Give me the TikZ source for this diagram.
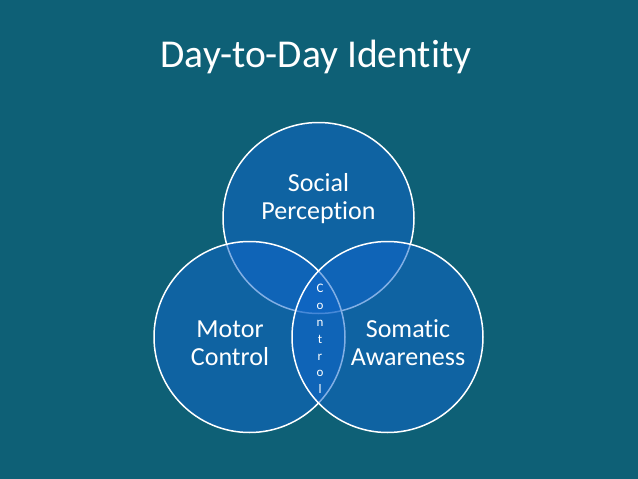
\documentclass[tikz,border=0pt]{standalone}
\usepackage{fontspec}
\setmainfont{Carlito}[Ligatures=NoCommon]
\usetikzlibrary{positioning}
\definecolor{slidebg}{RGB}{14,96,118}
\definecolor{ringblue}{RGB}{16,102,204}
\tikzset{
  ring/.style ={circle,draw=white,line width=1.5pt,fill=ringblue,fill opacity=0.52,
                draw opacity=1,minimum size=191pt,inner sep=0pt},
  lbl/.style  ={text=white,align=center,font=\fontsize{26}{28}\selectfont,inner sep=0pt},
}
\begin{document}
\begin{tikzpicture}[x=1pt,y=-1pt,
    vlbl/.style={text=white,align=center,font=\fontsize{13}{16.8}\selectfont,inner sep=0pt},
  ]
  % slide background
  \fill[slidebg] (0,0) rectangle (638,479);
  \useasboundingbox (0,0) rectangle (638,479);

  \node[text=white,font=\fontsize{39.5}{42}\selectfont,inner sep=0pt] (title) at (316,57)
    {Day-to-Day Identity};

  % three rings
  \node[ring] (sp) at (318.5,218) {};
  \node[ring] (mc) at (249.5,337) {};
  \node[ring] (sa) at (387.5,337) {};

  \node[lbl] (splbl) at (318.5,199) {Social\\Perception};
  \node[lbl] (mclbl) at (230,343) {Motor\\Control};
  \node[lbl] (salbl) at (408,343) {Somatic\\Awareness};

  \node[vlbl] (ctl) at (320,339) {C\\o\\n\\t\\r\\o\\l};
\end{tikzpicture}
\end{document}
